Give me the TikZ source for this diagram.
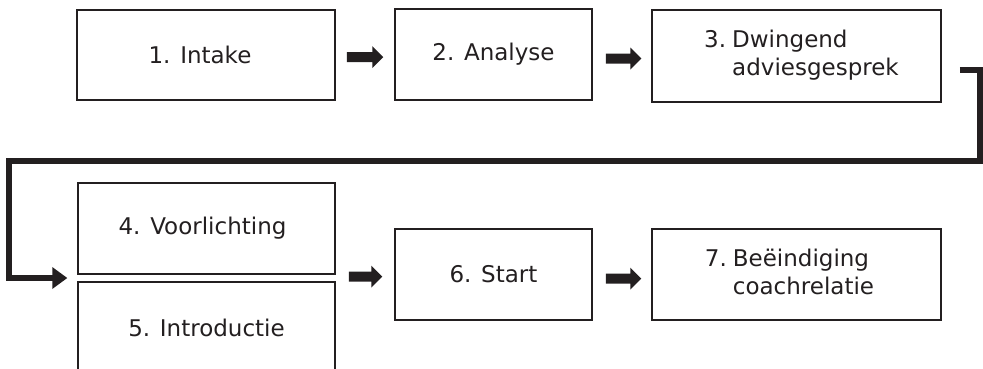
\documentclass[tikz,border=0pt]{standalone}
\usepackage{fontspec}
\setmainfont{DejaVu Sans}
\usetikzlibrary{calc}
\definecolor{ink}{HTML}{231F20}
\begin{document}
\begin{tikzpicture}[x=1pt,y=-1pt,
  stepbox/.style={draw=ink,line width=1.5pt,inner sep=0pt,text=ink,
    font=\fontsize{23}{28}\selectfont,align=center},
  blockarrow/.style={fill=ink,to path={let \p1=(\tikztostart), \p2=(\tikztotarget) in
    (\x1,\y1+5pt) -- (\x2-11pt,\y1+5pt) -- (\x2-11pt,\y1+11pt) -- (\x2,\y1)
    -- (\x2-11pt,\y1-11pt) -- (\x2-11pt,\y1-5pt) -- (\x1,\y1-5pt) -- cycle}},
  elbow/.style={draw=ink,line width=6pt,line join=miter},
  elbowhead/.style={fill=ink,to path={let \p1=(\tikztostart), \p2=(\tikztotarget) in
    (\x2,\y2) -- (\x2-15pt,\y2+11pt) -- (\x2-15pt,\y2-11pt) -- cycle}}]
\useasboundingbox (0,0) rectangle (983,368);
\begin{scope}
\clip (0,0) rectangle (983,368);
\node[stepbox,minimum width=258pt,minimum height=90pt] (b1) at (206,55) {\hspace*{-12pt}1. Intake};
\node[stepbox,minimum width=197pt,minimum height=91pt] (b2) at (493.5,54.5) {2. Analyse};
\node[stepbox,minimum width=289pt,minimum height=92pt] (b3) at (796.5,56)
  {\hspace*{10pt}\begin{tabular}{@{}l@{\hspace{6pt}}l@{}}3. & Dwingend\\ & adviesgesprek\end{tabular}};
\node[stepbox,minimum width=257pt,minimum height=91pt] (b4) at (206.5,228.5) {\hspace*{-8pt}4. Voorlichting};
\node[stepbox,minimum width=257pt,minimum height=91pt] (b5) at (206.5,327.5) {5. Introductie};
\node[stepbox,minimum width=197pt,minimum height=91pt] (b6) at (493.5,274.5) {6. Start};
\node[stepbox,minimum width=289pt,minimum height=91pt] (b7) at (796.5,274.5)
  {\hspace*{-14pt}\begin{tabular}{@{}l@{\hspace{6pt}}l@{}}7. & Beëindiging\\ & coachrelatie\end{tabular}};
\end{scope}
\path[blockarrow] ([xshift=11pt,yshift=-2pt]b1.east) to ([xshift=-11pt,yshift=-2pt]b2.west);
\path[blockarrow] ([xshift=13pt,yshift=-4pt]b2.east) to ([xshift=-10pt,yshift=-4pt]b3.west);
\path[blockarrow] ([xshift=13pt,yshift=-2pt]b4.east |- b6.west) to ([xshift=-12pt,yshift=-2pt]b6.west);
\path[blockarrow] ([xshift=13pt,yshift=-4pt]b6.east) to ([xshift=-10pt,yshift=-4pt]b7.west);
\coordinate (c1) at (980,160.5);
\coordinate (c2) at (9,160.5);
\coordinate (tip) at ($($(b4.south west)!0.5!(b5.north west)$)+(-10,0)$);
\draw[elbow] ([xshift=18pt,yshift=-14pt]b3.east) -| (c1) -- (c2) |- ([xshift=-14pt]tip);
\path[elbowhead] (c2) to (tip);
\end{tikzpicture}
\end{document}
